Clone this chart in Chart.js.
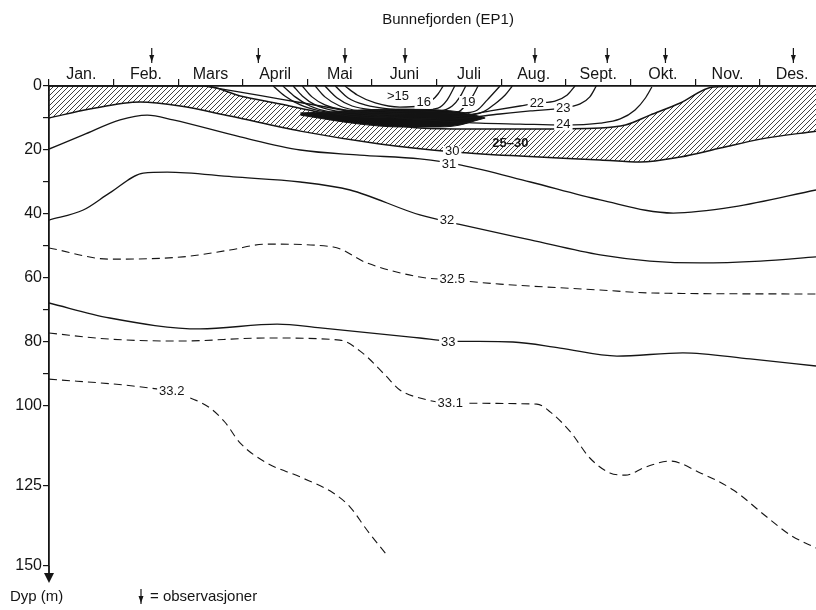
<!DOCTYPE html>
<html>
<head>
<meta charset="utf-8">
<script src="https://cdn.jsdelivr.net/npm/chart.js@4.4.1/dist/chart.umd.min.js"></script>
<style>
  html, body { margin: 0; padding: 0; background: #fff; overflow: hidden; }
</style>
</head>
<body>
<canvas id="chart" width="816" height="610"></canvas>
<script>
// axes
const months = ['Jan.', 'Feb.', 'Mars', 'April', 'Mai', 'Juni', 'Juli', 'Aug.', 'Sept.', 'Okt.', 'Nov.', 'Des.'];
const depthTicks = [0, 10, 20, 30, 40, 50, 60, 70, 80, 90, 100, 125, 150];
const depthLabels = [0, 20, 40, 60, 80, 100, 125, 150];
const observations = [1.59, 3.24, 4.58, 5.51, 7.52, 8.64, 9.54, 11.52]; // month of each cruise

// isolines as [month, depth m]
const iso25 = [[0, 0], [1.56, 0], [2.41, 0], [2.96, 3.1], [3.58, 5.6], [4.09, 7.8], [4.66, 10.0], [5.12, 11.6], [5.74, 13.1], [6.52, 13.4], [7.45, 13.4], [8.53, 13.1], [8.92, 12.2], [9.30, 9.1], [9.77, 5.3], [10.28, 0.3], [11.01, 0], [11.87, 0]];
const iso30 = [[0, 10], [0.63, 7.2], [1.41, 5.0], [2.03, 6.25], [2.80, 9.4], [3.89, 14.1], [5.12, 18.1], [6.28, 20.6], [7.29, 21.9], [8.53, 23.1], [9.15, 23.75], [9.77, 22.2], [10.39, 19.4], [11.01, 16.6], [11.87, 14.1]];
const bandTop = [[3.89, 8.4], [4.35, 8.1], [4.81, 7.5], [5.43, 7.2], [6.05, 7.5], [6.36, 8.1], [6.59, 9.1], [6.75, 10.0]];
const bandBottom = [[3.89, 9.1], [4.35, 10.6], [4.81, 11.9], [5.43, 12.8], [6.05, 12.8], [6.36, 12.2], [6.59, 10.9], [6.75, 10.0]];
const iso24 = [[2.41, 0], [2.96, 1.9], [3.58, 4.1], [4.20, 6.25], [4.81, 8.4], [5.43, 10.0], [6.05, 10.9], [6.67, 11.6], [7.29, 11.9], [7.96, 12.2], [8.53, 11.6], [8.84, 10.3], [9.07, 7.5], [9.23, 3.75], [9.33, 0.3]];
const iso23 = [[3.47, 0], [3.65, 3.1], [3.89, 5.9], [4.20, 7.8], [4.66, 9.4], [5.43, 10.0], [6.21, 10.3], [6.98, 8.75], [7.45, 7.8], [7.94, 6.9], [8.22, 5.6], [8.37, 3.4], [8.47, 0]];
const iso22 = [[3.62, 0], [3.81, 3.4], [4.04, 6.25], [4.35, 8.1], [4.81, 9.1], [5.43, 9.7], [6.21, 9.7], [6.83, 7.8], [7.29, 6.25], [7.55, 5.3], [7.83, 4.7], [8.02, 2.8], [8.14, 0]];
const iso21 = [[3.78, 0], [3.92, 3.1], [4.12, 5.9], [4.43, 7.8], [4.97, 8.75], [5.74, 9.1], [6.44, 9.1], [6.72, 8.1], [6.90, 5.6], [7.06, 2.8], [7.17, 0]];
const iso20 = [[3.92, 0], [4.07, 3.4], [4.27, 5.9], [4.58, 7.5], [5.12, 8.4], [5.90, 8.75], [6.44, 8.4], [6.63, 7.5], [6.78, 4.4], [6.98, 0]];
const iso19 = [[4.12, 0], [4.27, 3.4], [4.50, 6.25], [4.81, 7.8], [5.43, 8.4], [6.05, 8.4], [6.33, 8.1], [6.44, 6.25], [6.55, 3.4], [6.64, 0]];
const iso18 = [[4.27, 0], [4.46, 3.75], [4.69, 6.25], [5.05, 7.5], [5.59, 8.1], [6.05, 7.8], [6.24, 6.25], [6.36, 3.4], [6.45, 0]];
const iso17 = [[4.43, 0], [4.63, 3.75], [4.89, 5.9], [5.28, 7.2], [5.74, 7.5], [6.02, 6.9], [6.16, 4.4], [6.28, 0]];
const iso16 = [[4.58, 0], [4.77, 2.8], [5.05, 5.3], [5.43, 6.6], [5.74, 6.25], [5.93, 4.4], [6.02, 2.5], [6.10, 0]];
const iso31 = [[0, 19.7], [0.53, 15.3], [1.10, 10.6], [1.52, 9.1], [1.92, 10.6], [2.96, 15.9], [3.89, 20.0], [4.81, 21.6], [5.74, 22.8], [6.38, 24.7], [7.45, 30.0], [8.53, 35.6], [9.66, 39.7], [10.59, 37.8], [11.87, 32.5]];
const iso32 = [[0, 41.9], [0.53, 38.75], [0.94, 33.4], [1.46, 27.2], [1.83, 26.9], [2.85, 28.4], [3.89, 30.0], [4.66, 32.5], [5.74, 40.3], [6.39, 43.4], [7.45, 48.1], [8.53, 52.8], [9.30, 54.7], [10.08, 55.3], [11.01, 54.7], [11.87, 53.4]];
const iso325 = [[0, 50.6], [0.94, 54.1], [2.07, 53.4], [2.80, 51.25], [3.37, 49.4], [4.40, 50.3], [4.92, 55.3], [5.74, 59.7], [6.24, 60.6], [6.98, 61.9], [8.53, 63.75], [9.35, 64.7], [11.87, 65.0]];
const iso33 = [[0, 67.8], [0.94, 72.5], [2.34, 75.9], [3.53, 74.4], [4.20, 75.6], [5.74, 78.75], [6.18, 79.7], [7.18, 80.0], [7.91, 81.9], [8.79, 84.4], [9.81, 83.4], [10.85, 85.3], [11.87, 87.5]];
const iso331 = [[0, 77.2], [0.94, 79.1], [2.03, 79.7], [3.37, 78.75], [4.50, 79.4], [4.85, 83.4], [5.20, 90.3], [5.43, 95.0], [5.74, 97.5], [6.21, 99.1], [7.55, 99.4], [7.76, 101.9], [8.07, 108.1], [8.37, 116.25], [8.68, 120.9], [8.92, 121.6], [9.23, 119.1], [9.61, 117.2], [10.08, 120.9], [10.59, 126.25], [11.11, 134.7], [11.47, 140.3], [11.87, 144.4]];
const iso332 = [[0, 91.6], [1.30, 93.75], [1.90, 95.6], [2.26, 98.1], [2.49, 100.6], [2.72, 105], [2.96, 111.6], [3.37, 117.8], [3.89, 122.2], [4.40, 127.2], [4.66, 131.6], [4.92, 138.75], [5.23, 146.6]];

// isoline labels: [text, month, depth, white gap behind]
const isoLabels = [
  ['>15', 5.40, 3.4, true], ['16', 5.80, 5.2, true], ['19', 6.49, 5.0, true],
  ['22', 7.55, 5.3, true], ['23', 7.96, 6.9, true], ['24', 7.96, 12.0, true],
  ['25\u201330', 7.14, 18.1, false], ['30', 6.24, 20.6, true], ['31', 6.19, 24.4, true],
  ['32', 6.16, 41.9, true], ['32.5', 6.24, 60.6, true], ['33', 6.18, 80.0, true],
  ['33.1', 6.21, 99.1, true], ['33.2', 1.90, 95.6, true]
];

const FONT = '"Liberation Sans", Arial, sans-serif';
const INK = '#151515';
Chart.defaults.font.family = FONT;
Chart.defaults.color = INK;

const canvas = document.getElementById('chart');

function makeHatch() {
  const c = document.createElement('canvas');
  c.width = 5; c.height = 5;
  const g = c.getContext('2d');
  g.strokeStyle = '#2a2a2a';
  g.lineWidth = 0.9;
  g.beginPath();
  g.moveTo(-1, 6); g.lineTo(6, -1);
  g.moveTo(-1, 1); g.lineTo(1, -1);
  g.moveTo(4, 6); g.lineTo(6, 4);
  g.stroke();
  return canvas.getContext('2d').createPattern(c, 'repeat');
}

const pts = arr => arr.map(([x, y]) => ({ x, y }));
const line = (arr, extra) => Object.assign({
  data: pts(arr),
  borderColor: INK,
  borderWidth: 1.3,
  pointRadius: 0,
  cubicInterpolationMode: 'monotone',
  fill: false,
  order: 0
}, extra);
const dashed = { borderDash: [8, 5], borderWidth: 1.1 };

function drawArrow(ctx, px, top, bottom) {
  ctx.beginPath();
  ctx.moveTo(px, top);
  ctx.lineTo(px, bottom);
  ctx.lineWidth = 1.2;
  ctx.stroke();
  ctx.beginPath();
  ctx.moveTo(px - 2.5, bottom - 8);
  ctx.lineTo(px + 2.5, bottom - 8);
  ctx.lineTo(px, bottom - 1);
  ctx.closePath();
  ctx.fill();
}

const decor = {
  id: 'decor',
  afterDatasetsDraw(chart) {
    const { ctx, scales: { x, y } } = chart;
    ctx.save();
    ctx.textAlign = 'center';
    ctx.textBaseline = 'middle';
    isoLabels.forEach(([text, m, d, gap]) => {
      const px = x.getPixelForValue(m);
      const py = y.getPixelForValue(d);
      ctx.font = (gap ? '13px ' : 'bold 13px ') + FONT;
      if (gap) {
        const w = ctx.measureText(text).width;
        ctx.fillStyle = '#fff';
        ctx.fillRect(px - w / 2 - 2, py - 6, w + 4, 12);
      }
      ctx.fillStyle = INK;
      ctx.fillText(text, px, py);
    });
    ctx.restore();
  },
  afterDraw(chart) {
    const { ctx, chartArea, scales: { x } } = chart;
    ctx.save();
    ctx.fillStyle = INK;
    ctx.strokeStyle = INK;

    ctx.font = '15px ' + FONT;
    ctx.textAlign = 'center';
    ctx.textBaseline = 'middle';
    ctx.fillText('Bunnefjorden (EP1)', 448, 20);

    // observation arrows above the month labels
    observations.forEach(m => drawArrow(ctx, x.getPixelForValue(m), 48, 63));

    // depth axis continues into an arrow head
    const ax = chartArea.left;
    ctx.lineWidth = 1.8;
    ctx.beginPath();
    ctx.moveTo(ax, chartArea.bottom);
    ctx.lineTo(ax, chartArea.bottom + 8);
    ctx.stroke();
    ctx.beginPath();
    ctx.moveTo(ax - 5, chartArea.bottom + 7);
    ctx.lineTo(ax + 5, chartArea.bottom + 7);
    ctx.lineTo(ax, chartArea.bottom + 17);
    ctx.closePath();
    ctx.fill();

    ctx.font = '15px ' + FONT;
    ctx.textAlign = 'left';
    ctx.fillText('Dyp (m)', 10, 597);
    drawArrow(ctx, 141, 589, 604);
    ctx.fillText('= observasjoner', 150, 597);
    ctx.restore();
  }
};

new Chart(canvas, {
  type: 'line',
  plugins: [decor],
  data: {
    datasets: [
      line(iso25, { fill: '+1', backgroundColor: makeHatch(), borderWidth: 1.5, order: 5 }),
      line(iso30, { borderWidth: 1.5, order: 4 }),
      line(bandTop, { fill: '+1', backgroundColor: '#121212', borderWidth: 1, order: 3 }),
      line(bandBottom, { borderWidth: 1, order: 3 }),
      line(iso24),
      line(iso23),
      line(iso22),
      line(iso21),
      line(iso20),
      line(iso19),
      line(iso18),
      line(iso17),
      line(iso16),
      line(iso31),
      line(iso32),
      line(iso325, dashed),
      line(iso33),
      line(iso331, dashed),
      line(iso332, dashed)
    ]
  },
  options: {
    responsive: false,
    animation: false,
    events: [],
    layout: { padding: { top: 62, bottom: 44, left: 0, right: 0 } },
    plugins: {
      legend: { display: false },
      tooltip: { enabled: false },
      title: { display: false }
    },
    scales: {
      x: {
        type: 'linear',
        position: 'top',
        min: 0,
        max: 11.87,
        afterBuildTicks: s => { s.ticks = months.map((_, i) => ({ value: i + 0.5 })); },
        afterFit: s => { s.height = 24; },
        ticks: {
          callback: v => months[Math.floor(v)],
          autoSkip: false,
          maxRotation: 0,
          padding: -5,
          font: { size: 16 },
          color: INK
        },
        grid: { offset: true, drawOnChartArea: false, tickLength: 7, color: INK, lineWidth: 1.2 },
        border: { color: INK, width: 1.8 }
      },
      y: {
        type: 'linear',
        reverse: true,
        min: 0,
        max: 150,
        afterBuildTicks: s => { s.ticks = depthTicks.map(v => ({ value: v })); },
        afterFit: s => { s.width = 49; },
        ticks: {
          callback: v => depthLabels.includes(v) ? String(v) : '',
          autoSkip: false,
          padding: 1,
          font: { size: 16 },
          color: INK
        },
        grid: { drawOnChartArea: false, tickLength: 6, color: INK, lineWidth: 1.2 },
        border: { color: INK, width: 1.8 }
      }
    }
  }
});
</script>
</body>
</html>
